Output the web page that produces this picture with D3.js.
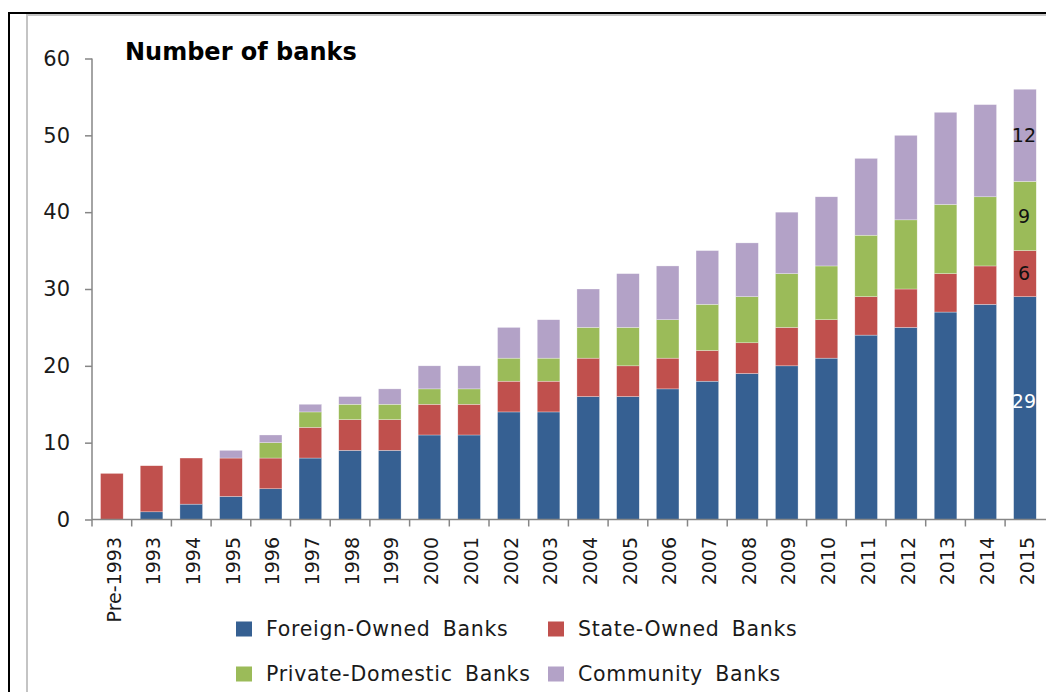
<!DOCTYPE html>
<html>
<head>
<meta charset="utf-8">
<script src="https://cdn.jsdelivr.net/npm/d3@7"></script>
<style>
  body { margin: 0; background: #fff; }
  svg { display: block; }
  text { font-family: "DejaVu Sans", sans-serif; fill: #1a1a1a; }
</style>
</head>
<body>
<div id="chart"></div>
<script>
// Chart size
const width = 1046;
const height = 692;

// Data
const categories = ["Pre-1993", "1993", "1994", "1995", "1996", "1997", "1998", "1999", "2000", "2001",
  "2002", "2003", "2004", "2005", "2006", "2007", "2008", "2009", "2010", "2011", "2012", "2013", "2014", "2015"];
const foreignOwned = [0, 1, 2, 3, 4, 8, 9, 9, 11, 11, 14, 14, 16, 16, 17, 18, 19, 20, 21, 24, 25, 27, 28, 29];
const stateOwned = [6, 6, 6, 5, 4, 4, 4, 4, 4, 4, 4, 4, 5, 4, 4, 4, 4, 5, 5, 5, 5, 5, 5, 6];
const privateDomestic = [0, 0, 0, 0, 2, 2, 2, 2, 2, 2, 3, 3, 4, 5, 5, 6, 6, 7, 7, 8, 9, 9, 9, 9];
const community = [0, 0, 0, 1, 1, 1, 1, 2, 3, 3, 4, 5, 5, 7, 7, 7, 7, 8, 9, 10, 11, 12, 12, 12];
const seriesNames = ["Foreign-Owned Banks", "State-Owned Banks", "Private-Domestic Banks", "Community Banks"];
const yTicks = [0, 10, 20, 30, 40, 50, 60];

const colors = ["#366092", "#c0504d", "#9bbb59", "#b3a2c7"];
const seriesValues = [foreignOwned, stateOwned, privateDomestic, community];

// build table rows for d3.stack
const rows = categories.map(function(c, i) {
  const row = {cat: c};
  seriesNames.forEach(function(s, j) { row[s] = seriesValues[j][i]; });
  return row;
});
const stacked = d3.stack().keys(seriesNames)(rows);

const svg = d3.select("#chart").append("svg")
  .attr("width", width)
  .attr("height", height);

// outer frame (black) and inner chart area border (grey)
svg.append("rect")
  .attr("x", 9).attr("y", 13)
  .attr("width", width + 20).attr("height", height + 20)
  .style("fill", "none").style("stroke", "#000").style("stroke-width", 2);
svg.append("rect")
  .attr("x", 27).attr("y", 15)
  .attr("width", width + 20).attr("height", height + 20)
  .style("fill", "none").style("stroke", "#c4c4c4").style("stroke-width", 2);

const x0 = 92, step = 39.7;
const x = d3.scaleBand()
  .domain(categories)
  .range([x0, x0 + step * categories.length])
  .paddingInner(0.43)
  .paddingOuter(0.215);

const y = d3.scaleLinear()
  .domain([0, 60])
  .range([519.5, 58.5]);

// bars
const layer = svg.selectAll("g.layer")
  .data(stacked)
  .enter().append("g")
  .attr("class", "layer")
  .style("fill", function(d, i) { return colors[i]; });

layer.selectAll("rect")
  .data(function(d) { return d; })
  .enter().append("rect")
  .attr("x", function(d) { return x(d.data.cat); })
  .attr("y", function(d) { return y(d[1]); })
  .attr("width", x.bandwidth())
  .attr("height", function(d) { return y(d[0]) - y(d[1]); })
  .style("stroke", "#fff")
  .style("stroke-width", 0.5)
  .style("stroke-opacity", function(d) { return d[1] > d[0] ? 0.6 : 0; });

// y axis
const yAxis = svg.append("g")
  .attr("transform", "translate(" + x0 + ",0)")
  .call(d3.axisLeft(y).tickValues(yTicks).tickSize(7).tickPadding(15));
yAxis.select(".domain").attr("stroke", "#868686").attr("stroke-width", 1.5)
  .attr("d", "M0," + y(60) + "V" + y(0));
yAxis.selectAll(".tick line").attr("stroke", "#868686").attr("stroke-width", 1.5);
yAxis.selectAll(".tick text")
  .style("font-size", "21px")
  .style("font-family", "DejaVu Sans, sans-serif")
  .style("fill", "#1a1a1a");

// x axis line and boundary ticks
svg.append("line")
  .attr("x1", x0).attr("x2", width)
  .attr("y1", y(0)).attr("y2", y(0))
  .style("stroke", "#868686").style("stroke-width", 1.5);

svg.selectAll("line.xtick")
  .data(categories)
  .enter().append("line")
  .attr("class", "xtick")
  .attr("x1", function(d) { return x(d) - x.step() * x.paddingInner() / 2; })
  .attr("x2", function(d) { return x(d) - x.step() * x.paddingInner() / 2; })
  .attr("y1", y(0)).attr("y2", y(0) + 7)
  .style("stroke", "#868686").style("stroke-width", 1.5);

// x labels, rotated
svg.selectAll("text.xlabel")
  .data(categories)
  .enter().append("text")
  .attr("class", "xlabel")
  .attr("transform", function(d) {
    return "translate(" + (x(d) + x.bandwidth() / 2 + 2) + "," + 537 + ") rotate(-90)";
  })
  .attr("dy", "0.35em")
  .attr("text-anchor", "end")
  .style("font-size", "19px")
  .text(function(d) { return d; });

// title
svg.append("text")
  .attr("x", 125).attr("y", 60)
  .style("font-size", "24px")
  .style("font-weight", "bold")
  .style("fill", "#000")
  .text("Number of banks");

// data labels on last bar
const last = categories[categories.length - 1];
const lastSegs = stacked.map(function(s, i) {
  const d = s[s.length - 1];
  return {v: d[1] - d[0], mid: (d[0] + d[1]) / 2, i: i};
});
svg.selectAll("text.dlabel")
  .data(lastSegs)
  .enter().append("text")
  .attr("class", "dlabel")
  .attr("x", x(last) + x.bandwidth() / 2 - 1)
  .attr("y", function(d) { return y(d.mid); })
  .attr("dy", function(d) { return d.i === 0 ? "0" : "0.35em"; })
  .attr("text-anchor", "middle")
  .style("font-size", "19px")
  .style("fill", function(d) { return d.i === 0 ? "#fff" : "#111"; })
  .text(function(d) { return d.v; });

// legend
const legendPos = [[236, 629], [548, 629], [236, 674], [548, 674]];
const legend = svg.selectAll("g.legend")
  .data(seriesNames)
  .enter().append("g")
  .attr("class", "legend")
  .attr("transform", function(d, i) { return "translate(" + legendPos[i][0] + "," + legendPos[i][1] + ")"; });

legend.append("rect")
  .attr("x", 0).attr("y", -7.5)
  .attr("width", 16).attr("height", 15)
  .style("fill", function(d, i) { return colors[i]; });

legend.append("text")
  .attr("x", 30)
  .attr("dy", "0.35em")
  .style("font-size", "20.5px")
  .style("letter-spacing", "0.7px")
  .style("word-spacing", "5px")
  .text(function(d) { return d; });
</script>
</body>
</html>
